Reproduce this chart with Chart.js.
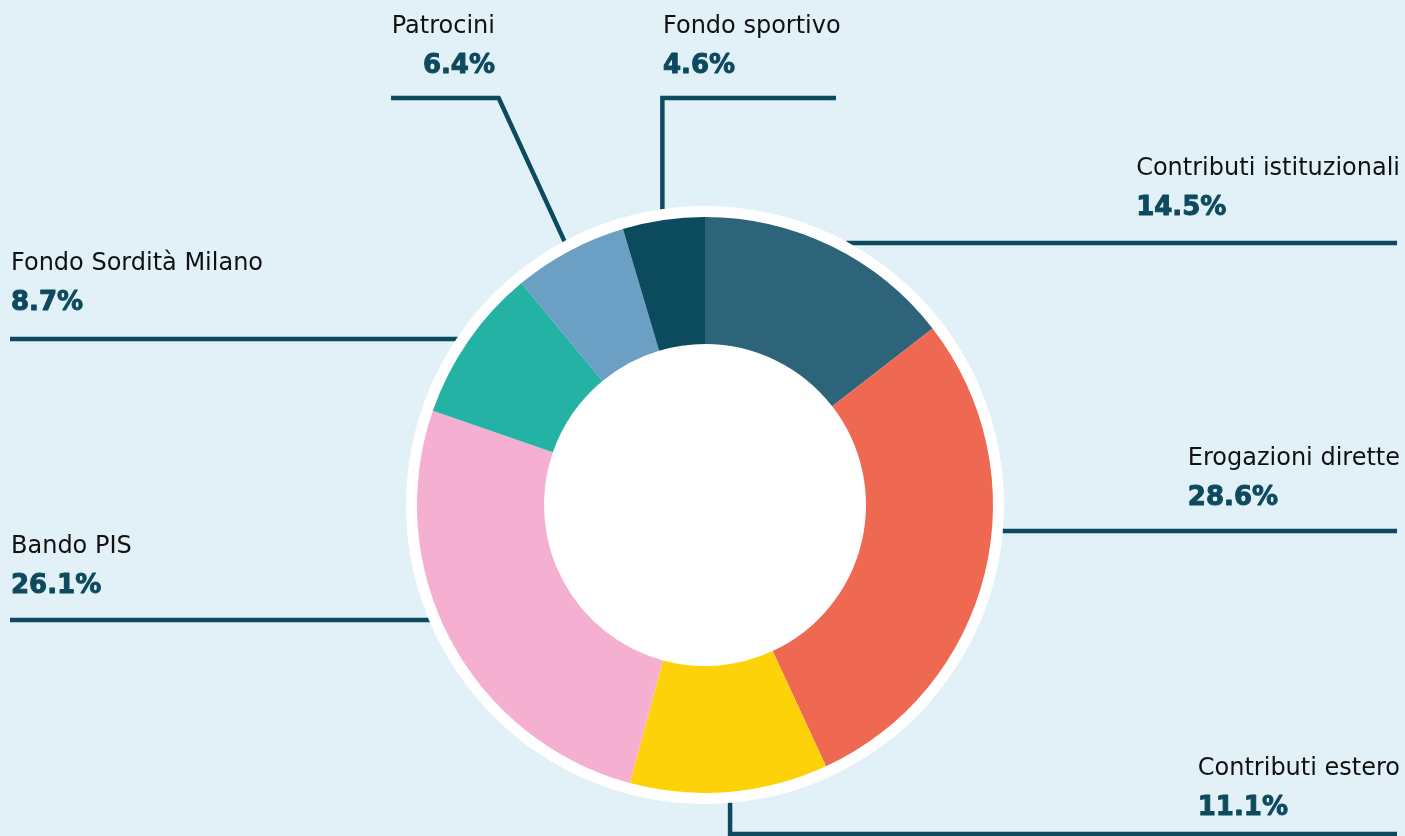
<!DOCTYPE html>
<html>
<head>
<meta charset="utf-8">
<script src="https://cdn.jsdelivr.net/npm/chart.js@4/dist/chart.umd.min.js"></script>
<style>
  body { margin: 0; background: #e2f1f7; }
  #wrap { width: 1405px; height: 836px; }
</style>
</head>
<body>
<div id="wrap"><canvas id="canvas" width="1405" height="836"></canvas></div>
<script>
// data
var categories = ["Contributi istituzionali", "Erogazioni dirette", "Contributi estero", "Bando PIS", "Fondo Sordità Milano", "Patrocini", "Fondo sportivo"];
var shares = [14.5, 28.6, 11.1, 26.1, 8.7, 6.4, 4.6];
var sliceColors = ["#2e6479", "#ef6852", "#fed208", "#f5b0d1", "#24b2a5", "#6b9fc4", "#0c4a5d"];

var LINE_COLOR = "#0e4a5e";
var RING = 11;

// callout layout: 'h' = horizontal line at lineY from the ring, 'knee' = from slice middle to a knee then horizontal
var callouts = [
  { mode: "h", lineY: 243, endX: 1397, align: "block", textX: 1400, labelY: 175 },
  { mode: "h", lineY: 531, endX: 1397, align: "block", textX: 1400, labelY: 465 },
  { mode: "knee", kneeDx: 0, lineY: 834, endX: 1397, align: "block", textX: 1400, labelY: 775 },
  { mode: "h", lineY: 620, endX: 10, align: "left", textX: 11, labelY: 553 },
  { mode: "h", lineY: 339, endX: 10, align: "left", textX: 11, labelY: 270 },
  { mode: "knee", kneeDx: -67, lineY: 98, endX: 391, align: "right", textX: 495, labelY: 33 },
  { mode: "knee", kneeDx: 0, lineY: 98, endX: 836, align: "left", textX: 663, labelY: 33 }
];

var calloutPlugin = {
  id: "callouts",
  beforeDatasetsDraw: function (chart) {
    var ctx = chart.ctx;
    var meta = chart.getDatasetMeta(0);
    var arc0 = meta.data[0];
    var cx = arc0.x, cy = arc0.y;
    var R = arc0.outerRadius + RING;

    ctx.save();
    ctx.strokeStyle = LINE_COLOR;
    ctx.lineWidth = 4.5;
    ctx.lineJoin = "miter";
    meta.data.forEach(function (arc, i) {
      var c = callouts[i];
      ctx.beginPath();
      if (c.mode === "h") {
        var dy = c.lineY - cy;
        var dx = Math.sqrt(Math.max(R * R - dy * dy, 0));
        var sx = c.endX > cx ? cx + dx - 3 : cx - dx + 3;
        ctx.moveTo(sx, c.lineY);
        ctx.lineTo(c.endX, c.lineY);
      } else {
        var mid = (arc.startAngle + arc.endAngle) / 2;
        var ax = cx + Math.cos(mid) * (R - 3);
        var ay = cy + Math.sin(mid) * (R - 3);
        ctx.moveTo(ax, ay);
        ctx.lineTo(ax + c.kneeDx, c.lineY);
        ctx.lineTo(c.endX, c.lineY);
      }
      ctx.stroke();
    });

    // white ring behind the doughnut (also fills the hole)
    ctx.beginPath();
    ctx.arc(cx, cy, R, 0, Math.PI * 2);
    ctx.fillStyle = "#ffffff";
    ctx.fill();
    ctx.restore();
  },
  afterDraw: function (chart) {
    var ctx = chart.ctx;
    var labelFont = "24px 'DejaVu Sans'";
    var pctFont = "bold 26px 'DejaVu Sans'";
    ctx.save();
    ctx.textBaseline = "alphabetic";
    ctx.lineWidth = 1;
    ctx.lineJoin = "round";
    callouts.forEach(function (c, i) {
      var label = categories[i];
      var pct = shares[i].toFixed(1) + "%";
      ctx.font = labelFont;
      var w = ctx.measureText(label).width;
      var x = c.textX;
      if (c.align === "block") {
        x = c.textX - w;
        ctx.textAlign = "left";
      } else {
        ctx.textAlign = c.align;
      }
      ctx.fillStyle = "#111111";
      ctx.fillText(label, x, c.labelY);
      ctx.font = pctFont;
      ctx.fillStyle = LINE_COLOR;
      ctx.strokeStyle = LINE_COLOR;
      ctx.fillText(pct, x, c.labelY + 40);
      ctx.strokeText(pct, x, c.labelY + 40);
    });
    ctx.restore();
  }
};

var chart = new Chart(document.getElementById("canvas").getContext("2d"), {
  type: "doughnut",
  data: {
    labels: categories,
    datasets: [{
      data: shares,
      backgroundColor: sliceColors,
      borderWidth: 0,
      hoverOffset: 0
    }]
  },
  options: {
    responsive: false,
    animation: false,
    events: [],
    cutout: 161,
    layout: { padding: { top: 217, bottom: 43, left: 417, right: 412 } },
    plugins: {
      legend: { display: false },
      tooltip: { enabled: false }
    }
  },
  plugins: [calloutPlugin]
});
</script>
</body>
</html>
